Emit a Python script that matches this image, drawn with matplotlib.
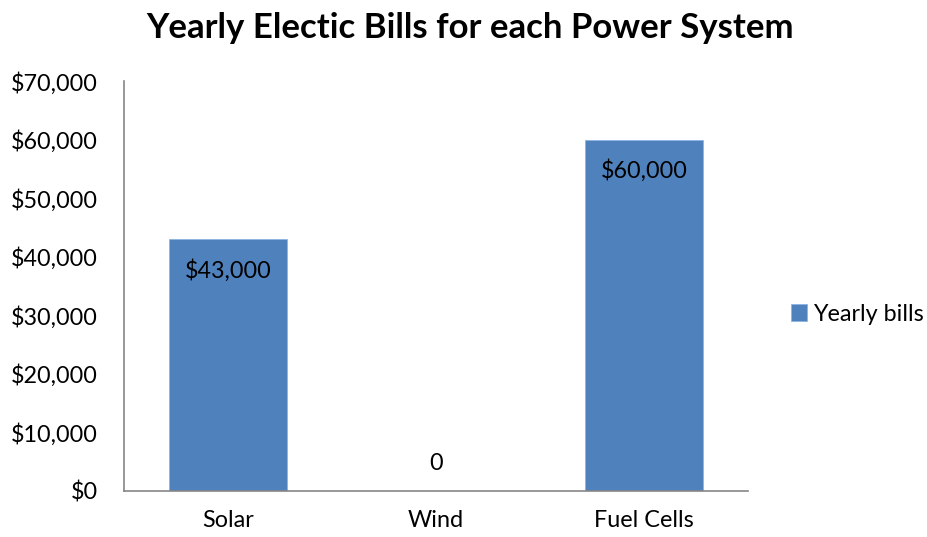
import matplotlib
matplotlib.use("Agg")
import matplotlib.pyplot as plt
from matplotlib.ticker import FuncFormatter, MultipleLocator
from matplotlib.patches import Patch

categories = ["Solar", "Wind", "Fuel Cells"]
yearly_bills = [43000, 0, 60000]
value_labels = ["$43,000", "0", "$60,000"]
series_name = "Yearly bills"
title = "Yearly Electic Bills for each Power System"

plt.rcParams["font.family"] = ["Lato", "DejaVu Sans"]

fig = plt.figure(figsize=(9.28, 5.37), dpi=100)
ax = fig.add_axes([0.1336, 0.0857, 0.806 - 0.1336, 0.849 - 0.0857])

bar_color = "#4F81BD"
label_size = 16.8
x = range(len(categories))
bars = ax.bar(x, yearly_bills, width=0.57, color=bar_color,
              edgecolor="#8EB4E3", linewidth=0.6)

ax.set_xlim(-0.5, len(categories) - 0.5)
ax.set_ylim(0, 70000)
ax.yaxis.set_major_locator(MultipleLocator(10000))
ax.yaxis.set_major_formatter(FuncFormatter(lambda v, p: f"${v:,.0f}"))
ax.set_xticks(list(x))
ax.set_xticklabels(categories)

for s in ["top", "right"]:
    ax.spines[s].set_visible(False)
for s in ["left", "bottom"]:
    ax.spines[s].set_color("#868686")
    ax.spines[s].set_linewidth(1.2)

ax.tick_params(axis="both", length=0, labelsize=label_size, colors="black")
ax.tick_params(axis="y", pad=19)
ax.tick_params(axis="x", pad=14)

# value labels just inside the top of each bar
for xi, val, lab in zip(x, yearly_bills, value_labels):
    if val > 0:
        ax.annotate(lab, (xi, val), xytext=(0, -22.5), textcoords="offset points",
                    ha="center", va="center", fontsize=label_size, color="black")
    else:
        ax.annotate(lab, (xi, val), xytext=(0, 20), textcoords="offset points",
                    ha="center", va="center", fontsize=label_size, color="black")

fig.text(0.507, 0.948, title, ha="center", va="center",
         fontsize=25, fontweight="bold")

handle = Patch(facecolor=bar_color, edgecolor="#8EB4E3", linewidth=0.6)
fig.legend([handle], [series_name], loc="center left",
           bbox_to_anchor=(0.842, 0.415), frameon=False, fontsize=label_size,
           handlelength=0.7, handleheight=0.7, handletextpad=0.25,
           borderpad=0.2, borderaxespad=0.2)

fig.savefig("out.png", dpi=100, facecolor="white")
